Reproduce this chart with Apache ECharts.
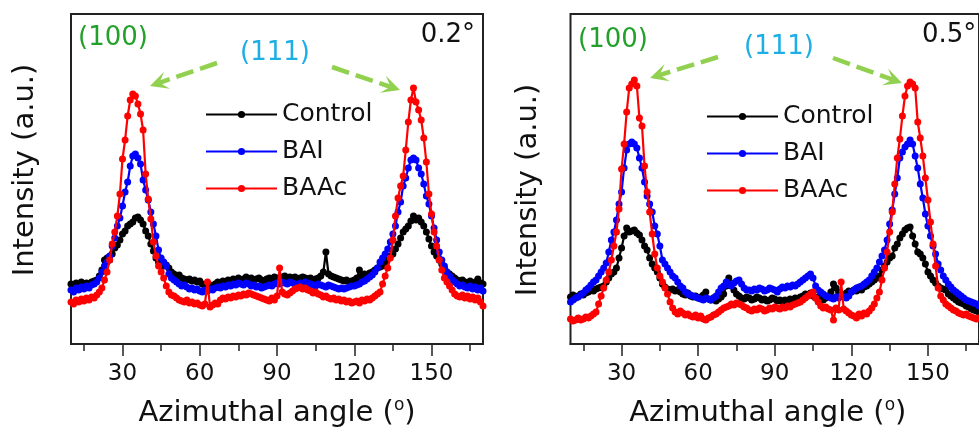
<!DOCTYPE html>
<html><head><meta charset="utf-8">
<script src="https://cdn.jsdelivr.net/npm/echarts@6/dist/echarts.min.js"></script>
<style>html,body{margin:0;padding:0;background:#fff}#c{width:979px;height:433px}</style>
</head><body><div id="c"></div>
<script>
// Sampling grid of azimuthal angle (degrees)
const angleStart = 10, angleEnd = 170, angleStep = 1;
const angles = [];
for (let a = angleStart; a <= angleEnd; a += angleStep) angles.push(a);

const majorTicks = [30, 60, 90, 120, 150];
const minorTicks = [15, 45, 75, 105, 135, 165];
const seriesNames = ['Control', 'BAI', 'BAAc'];
const panelLabels = ['0.2°', '0.5°'];
const planeLabels = ['(100)', '(111)'];

// ---- 0.2° panel (intensity, a.u.) ----
const control02 = [
60,58,61,59,62,60,61,59,62,63,
64,68,74,84,86,84,90,96,99,104,
110,113,118,120,122,126,127,124,120,113,
108,100,93,86,82,80,78,79,76,72,
70,68,69,66,65,64,65,63,64,62,
63,60,58,57,59,58,60,62,61,63,
62,64,63,65,64,66,64,65,67,65,
66,64,65,66,64,63,65,66,65,67,
66,65,67,68,66,67,66,67,65,66,
67,66,65,66,64,65,66,68,72,92,
70,68,67,66,65,64,63,64,62,63,
64,66,74,68,70,68,71,72,74,76,
77,78,82,85,88,90,95,100,106,112,
115,118,123,128,124,126,122,118,112,105,
98,92,88,84,80,76,72,70,68,66,
64,63,64,62,61,63,60,62,65,61,
60];
const bai02 = [
54,52,56,54,57,55,58,56,59,60,
62,66,72,78,82,88,98,106,118,126,
138,152,162,178,188,190,186,180,164,154,
144,132,120,108,94,86,82,78,70,66,
64,62,60,58,59,57,55,56,54,55,
53,52,54,53,55,54,56,57,56,58,
57,59,58,60,59,61,60,59,61,60,
58,59,57,58,56,57,58,59,58,60,
61,60,62,61,60,62,61,60,59,61,
60,62,61,60,59,58,60,59,58,57,
59,58,57,56,55,56,55,56,57,58,
58,59,60,62,63,65,67,69,72,76,
82,86,90,95,102,110,118,132,142,158,
166,176,184,186,184,176,170,160,148,140,
128,116,104,92,84,78,72,68,64,62,
60,58,59,57,56,58,55,57,54,56,
53];
const baac02 = [
42,40,44,42,45,43,46,44,47,46,
49,52,56,64,72,84,100,112,128,150,
185,204,228,244,250,248,240,230,214,170,
145,125,102,88,78,72,66,58,52,49,
48,46,44,43,42,44,41,42,40,41,
39,38,40,62,37,39,41,40,44,46,
45,47,46,48,47,49,48,50,49,51,
50,49,48,47,46,45,44,43,46,44,
48,76,52,50,49,51,53,55,56,57,
55,56,54,53,51,52,50,49,47,48,
46,45,46,44,45,43,44,42,43,41,
42,43,41,44,43,45,44,46,48,50,
52,60,68,76,86,104,128,146,158,168,
194,222,244,256,242,234,224,206,182,150,
130,112,98,84,74,66,62,58,54,50,
48,47,49,46,48,45,47,44,46,42,
38];

// ---- 0.5° panel (intensity, a.u.) ----
const control05 = [
47,49,46,48,50,49,51,52,54,53,
55,56,57,58,62,66,70,72,76,86,
96,108,116,112,113,114,111,109,104,98,
94,86,80,76,72,66,60,57,55,54,
55,53,54,52,50,49,51,48,47,48,
46,47,49,52,45,44,46,43,45,47,
50,58,66,60,54,50,48,46,45,47,
46,44,45,47,46,44,45,43,44,46,
45,43,44,42,44,43,45,44,46,45,
47,48,50,49,51,48,46,47,45,44,
46,48,52,60,56,52,50,49,51,53,
52,54,53,55,54,57,58,60,62,64,
66,68,74,78,82,86,88,96,100,106,
110,114,116,117,108,100,92,90,86,80,
72,68,64,61,58,56,55,54,50,48,
46,44,42,41,40,38,37,35,34,33,
32];
const bai05 = [
42,44,46,47,49,51,54,56,59,62,
64,68,72,76,81,92,104,112,124,140,
152,176,194,200,202,200,196,186,176,162,
148,140,132,118,110,98,84,80,76,72,
68,66,62,58,56,52,50,49,48,47,
46,45,44,46,45,44,46,48,52,56,
58,62,60,58,61,63,64,60,56,54,
54,53,55,54,56,55,53,54,56,55,
54,52,55,57,56,58,57,59,58,60,
62,64,66,68,70,66,58,54,52,50,
48,47,46,45,47,46,48,47,46,48,
52,54,56,57,58,60,62,64,68,72,
76,82,88,94,104,120,134,150,166,186,
192,197,200,204,200,188,176,160,146,130,
118,108,98,90,80,74,68,64,60,57,
54,52,50,48,46,44,43,42,41,40,
38];
const baac05 = [
25,23,24,26,24,25,27,26,28,30,
32,40,48,56,64,72,84,98,112,135,
175,200,232,256,260,264,258,226,218,178,
152,132,110,90,76,68,62,56,50,42,
36,32,30,33,31,29,30,28,27,29,
26,28,25,24,26,27,29,30,32,34,
36,37,38,40,39,41,40,39,37,36,
34,33,35,34,36,35,33,34,36,35,
37,36,35,37,36,38,37,39,40,41,
42,44,46,48,50,52,46,42,38,36,
37,35,34,24,36,34,62,35,33,31,
29,28,26,30,28,31,30,33,36,40,
46,52,64,76,92,112,132,160,186,205,
228,248,258,262,260,256,222,206,188,166,
144,122,100,78,56,48,44,40,38,36,
34,33,31,30,29,30,28,27,26,25,
26];

const FONT = 'DejaVu Sans';
const colors = { Control: '#000000', BAI: '#0000ff', BAAc: '#ff0000' };
const green = '#92d050', plane100 = '#22a02a', plane111 = '#1daee5';

const pair = vals => vals.map((v, i) => [angles[i], v]);

const grids = [
  { left: 71, top: 14, width: 412, height: 330 },
  { left: 570.5, top: 14, width: 412.5, height: 330 }
];

function xAxes(gi, namePad) {
  return [{
    type: 'value', gridIndex: gi, min: angleStart, max: angleEnd,
    axisLine: { show: true, lineStyle: { color: '#222', width: 2 } },
    axisTick: { show: true, customValues: majorTicks, length: 12, lineStyle: { color: '#222', width: 1.5 } },
    axisLabel: { show: true, customValues: majorTicks, fontSize: 23, fontFamily: FONT, color: '#111', margin: 19 },
    splitLine: { show: false },
    name: 'Azimuthal angle ({s|o})', nameLocation: 'middle', nameGap: 53,
    nameTextStyle: { fontSize: 29, fontFamily: FONT, color: '#111', padding: namePad,
      rich: { s: { fontSize: 17, fontFamily: FONT, color: '#111', padding: [0, 0, 16, 0] } } }
  }, {
    type: 'value', gridIndex: gi, min: angleStart, max: angleEnd, position: 'bottom',
    axisLine: { show: false },
    axisTick: { show: true, customValues: minorTicks, length: 7, lineStyle: { color: '#222', width: 1.5 } },
    axisLabel: { show: false }, splitLine: { show: false }
  }];
}
function yAxis(gi, gap, pad) {
  return {
    type: 'value', gridIndex: gi, min: 0, max: 330,
    axisLine: { show: false }, axisTick: { show: false }, axisLabel: { show: false }, splitLine: { show: false },
    name: 'Intensity (a.u.)', nameLocation: 'middle', nameGap: gap,
    nameTextStyle: { fontSize: 29, fontFamily: FONT, color: '#111', padding: pad }
  };
}

const panelData = [[control02, bai02, baac02], [control05, bai05, baac05]];
const series = [];
panelData.forEach((set, gi) => {
  set.forEach((vals, k) => {
    const nm = seriesNames[k];
    series.push({
      type: 'line', name: nm, xAxisIndex: gi * 2, yAxisIndex: gi,
      data: pair(vals), symbol: 'circle', symbolSize: 7, showAllSymbol: true,
      lineStyle: { width: 2.2, color: colors[nm] }, itemStyle: { color: colors[nm] },
      z: 2 + k, animation: false
    });
  });
});

function arrow(x1, y1, x2, y2) {
  const dx = x2 - x1, dy = y2 - y1, L = Math.hypot(dx, dy);
  const ux = dx / L, uy = dy / L, nx = -uy, ny = ux;
  const hl = 18, hw = 9, notch = 10;
  const bx = x2 - ux * notch, by = y2 - uy * notch;
  return [
    { type: 'line', shape: { x1, y1, x2: bx, y2: by }, style: { stroke: green, lineWidth: 4.5, lineDash: [18, 7] }, z: 20 },
    { type: 'polygon', shape: { points: [[x2, y2], [x2 - ux * hl + nx * hw, y2 - uy * hl + ny * hw], [bx, by], [x2 - ux * hl - nx * hw, y2 - uy * hl - ny * hw]] }, style: { fill: green }, z: 20 }
  ];
}
function label(text, x, y, color, align) {
  return { type: 'text', x, y, z: 20, style: { text, fill: color, fontSize: 26, fontFamily: FONT, align, verticalAlign: 'middle' } };
}

const graphic = [
  label(planeLabels[0], 78, 38, plane100, 'left'),
  label(planeLabels[1], 275, 53, plane111, 'center'),
  label(panelLabels[0], 475, 35, '#111', 'right'),
  label(planeLabels[0], 578, 40, plane100, 'left'),
  label(planeLabels[1], 779, 47, plane111, 'center'),
  label(panelLabels[1], 922, 35, '#111', 'left'),
  ...arrow(217, 63, 150, 86),
  ...arrow(332, 67, 400, 90),
  ...arrow(718, 57, 650, 78),
  ...arrow(833, 58, 902, 83)
];

const legendCommon = {
  orient: 'vertical', itemWidth: 71, itemHeight: 9, itemGap: 12, selectedMode: false,
  data: seriesNames, textStyle: { fontSize: 25, fontFamily: FONT, color: '#111' }
};

const chart = echarts.init(document.getElementById('c'), null, { renderer: 'canvas' });
chart.setOption({
  animation: false,
  backgroundColor: '#fff',
  grid: grids.map(g => Object.assign({ show: true, borderColor: '#222', borderWidth: 2, backgroundColor: 'transparent' }, g)),
  xAxis: [...xAxes(0, [0, 0, 0, 0]), ...xAxes(1, [0, 14, 0, 0])],
  yAxis: [yAxis(0, 31, [0, 0, 0, 18]), yAxis(1, 28, [0, 22, 0, 0])],
  legend: [
    Object.assign({ left: 200, top: 97 }, legendCommon),
    Object.assign({ left: 701, top: 99 }, legendCommon)
  ],
  series,
  graphic
});
</script>
</body></html>
